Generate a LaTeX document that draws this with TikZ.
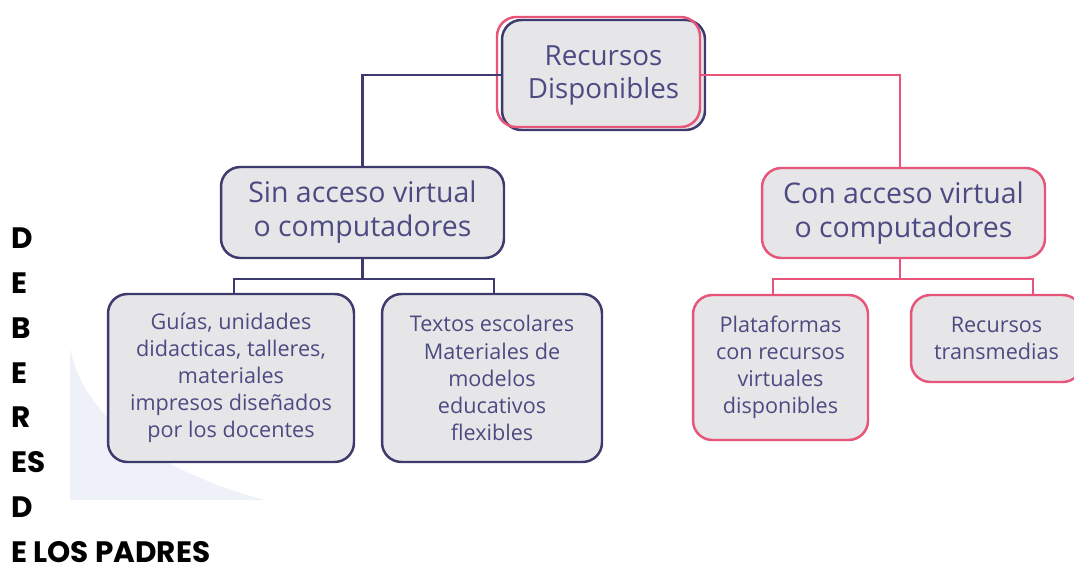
\documentclass[tikz,border=0pt]{standalone}
\usepackage{fontspec}
\setmainfont{Open Sans}
\newfontfamily\sidefont{Poppins}
\usepackage{tikz}
\usetikzlibrary{calc,positioning}

\definecolor{navy}{RGB}{61,58,110}
\definecolor{rosa}{RGB}{232,85,122}
\definecolor{caja}{RGB}{230,230,232}
\definecolor{letra}{RGB}{76,74,130}
\definecolor{fondo}{RGB}{238,242,248}

\tikzset{
  caja/.style={draw,line width=1.4pt,rounded corners=11pt,fill=caja,
    text=letra,align=center,inner sep=0pt},
  grande/.style={caja,font=\fontsize{16.2}{19.3}\selectfont},
  chica/.style={caja,font=\fontsize{12.3}{15.4}\selectfont},
  liga/.style={line width=1.4pt}
}

\begin{document}
\begin{tikzpicture}[x=0.02cm,y=-0.02cm]
    \clip (0,0) rectangle (1074,564);
    \fill[white] (0,0) rectangle (1074,564);

    % fondo claro
    \fill[fondo] (70,348) .. controls (85,425) and (170,475) .. (265,500)
      -- (70,500) -- cycle;

    % cajas
    \node[grande,draw=navy,minimum width=4.06cm,minimum height=2.2cm,
      font=\fontsize{15.8}{18.7}\selectfont] (top) at (603.5,75)
      {Recursos\\Disponibles};
    \draw[rosa,line width=1.4pt,rounded corners=11pt] (497,17) rectangle (700,127);

    \node[grande,draw=navy,minimum width=5.66cm,minimum height=1.82cm] (sin) at (362.5,212.5)
      {Sin acceso virtual\\o computadores};
    \node[grande,draw=rosa,minimum width=5.66cm,minimum height=1.8cm] (con) at (903.5,213)
      {Con acceso virtual\\o computadores};

    \node[chica,draw=navy,minimum width=4.92cm,minimum height=3.36cm] (guias) at (231,378)
      {Guías, unidades\\didacticas, talleres,\\materiales\\impresos diseñados\\por los docentes};
    \node[chica,draw=navy,minimum width=4.4cm,minimum height=3.36cm] (textos) at (492,378)
      {Textos escolares\\Materiales de\\modelos\\educativos\\flexibles};
    \node[chica,draw=rosa,minimum width=3.5cm,minimum height=2.9cm] (plat) at (780.5,367.5)
      {Plataformas\\con recursos\\virtuales\\disponibles};
    \node[chica,draw=rosa,minimum width=3.42cm,minimum height=1.74cm] (trans) at (996.5,338.5)
      {Recursos\\transmedias};

    % lineas
    \draw[liga,navy] (top.west) -| (sin.north);
    \draw[liga,rosa] ([xshift=-2.8pt]top.east) -| ([xshift=-2pt]con.north);
    \draw[liga,navy] (sin.south) -- ++(0,20) -| ([xshift=1.7pt]guias.north);
    \draw[liga,navy] (sin.south) ++(0,20) -| ([xshift=1.2pt]textos.north);
    \draw[liga,rosa] ([xshift=-2pt]con.south) -- ++(0,20) -| ($(plat.north)+(-7.5,0)$);
    \draw[liga,rosa] ([xshift=-2pt]con.south) ++(0,20) -| ($(trans.north)+(36.5,0)$);

    % texto lateral
    \node[anchor=north west,inner sep=0pt,align=left,
      font=\sidefont\bfseries\fontsize{16.8}{25.6}\selectfont] (lado) at (11,227)
      {D\\E\\B\\E\\R\\ES\\D\\E LOS PADRES};
\end{tikzpicture}
\end{document}
